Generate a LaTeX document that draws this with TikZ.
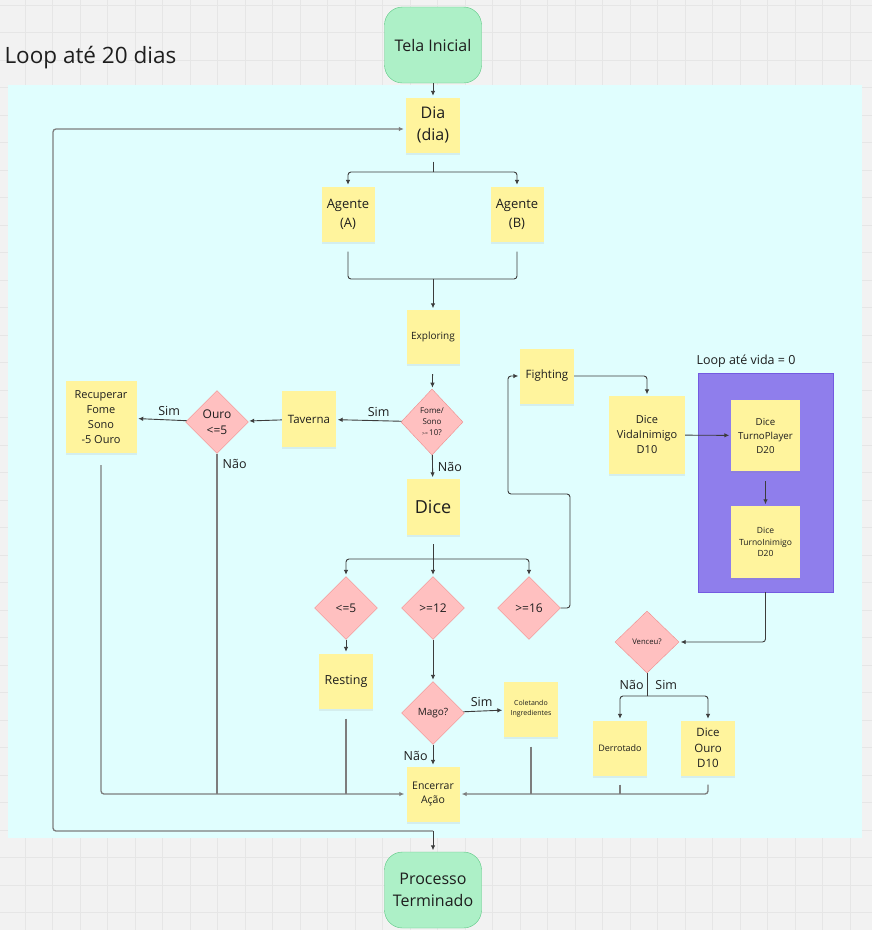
\documentclass[tikz,border=0pt]{standalone}
\usepackage{fontspec}
\setmainfont{Open Sans}
\usetikzlibrary{arrows.meta,shapes.geometric,shadows}

\definecolor{canvasgrey}{RGB}{242,242,242}
\definecolor{gridgrey}{RGB}{230,230,230}
\definecolor{loopcyan}{RGB}{224,254,254}
\definecolor{stickyyellow}{RGB}{255,244,157}
\definecolor{decisionpink}{RGB}{255,192,192}
\definecolor{decisionedge}{RGB}{240,140,140}
\definecolor{termgreen}{RGB}{173,240,199}
\definecolor{termedge}{RGB}{90,200,130}
\definecolor{fightpurple}{RGB}{143,126,236}
\definecolor{fightedge}{RGB}{115,90,225}
\definecolor{wire}{RGB}{60,60,60}
\definecolor{wiregrey}{RGB}{125,125,125}
\definecolor{ink}{RGB}{30,30,30}

\tikzset{
  fs/.style 2 args={font=\fontsize{#1}{#2}\selectfont},
  sticky/.style={fill=stickyyellow, text=ink, align=center, inner sep=1pt,
    minimum width=54pt, minimum height=55pt,
    drop shadow={opacity=0.12, shadow xshift=0pt, shadow yshift=-2pt}},
  decision/.style={diamond, fill=decisionpink, draw=decisionedge, text=ink,
    align=center, inner sep=0pt, minimum width=63pt, minimum height=63pt},
  terminal/.style={fill=termgreen, draw=termedge, text=ink, rounded corners=18pt,
    minimum width=97pt, minimum height=76pt, align=center, fs={16}{22}},
  line/.style={draw=wire, line width=0.9pt, rounded corners=3pt},
  flow/.style={line, ->, shorten >=1.5pt},
  merge/.style={draw=wiregrey, line width=1.3pt, rounded corners=3pt},
  tag/.style={text=ink, fs={12.5}{15}, inner sep=2pt},
}

\begin{document}
\begin{tikzpicture}[x=1pt, y=-1pt, >={Latex[length=5pt,width=4.5pt]}]
  \useasboundingbox (0,0) rectangle (872,930);
  % canvas
  \fill[canvasgrey] (0,0) rectangle (872,930);
  \foreach \gx in {25,52.5,...,872} \draw[gridgrey, line width=0.6pt] (\gx,0) -- (\gx,930);
  \foreach \gy in {5,32.5,...,930} \draw[gridgrey, line width=0.6pt] (0,\gy) -- (872,\gy);
  \fill[loopcyan] (8,85) rectangle (862,838);
  \node[anchor=west, text=ink, fs={22.5}{27}] (looptitle) at (1,58) {Loop até 20 dias};

  % combat loop box
  \node[draw=fightedge, fill=fightpurple, minimum width=135pt, minimum height=219pt] (combat) at (765.5,482.5) {};
  \node[anchor=west, text=ink, fs={12.5}{16}] (combatlabel) at (693,361) {Loop até vida = 0};

  % nodes
  \node[terminal] (tela) at (433,45) {Tela Inicial};
  \node[sticky, fs={16}{22}] (dia) at (433,125) {Dia\\(dia)};
  \node[sticky, fs={13}{19}, minimum width=53pt] (agA) at (348,214) {Agente\\(A)};
  \node[sticky, fs={13}{19}, minimum width=53pt] (agB) at (517,214) {Agente\\(B)};
  \node[sticky, fs={10}{13}, minimum width=53pt, minimum height=54pt] (explore) at (433,337) {Exploring};
  \node[decision, fs={8}{11}, minimum width=62pt, minimum height=66pt] (fome) at (432,422) {Fome/\\Sono\\{\fontsize{5}{6}\selectfont>{}=}\,10?};
  \node[sticky, fs={11.5}{15}, minimum height=56pt] (taverna) at (309,419) {Taverna};
  \node[decision, fs={12}{16}] (ouro) at (217,422) {Ouro\\<=5};
  \node[sticky, fs={11}{15}, minimum width=71pt, minimum height=72pt] (recup) at (101,417) {Recuperar\\Fome\\Sono\\-5 Ouro};
  \node[sticky, fs={18}{22}, minimum width=53pt, minimum height=56pt] (dice) at (433,507) {Dice};
  \node[decision, fs={12}{16}] (le5) at (346,608) {<=5};
  \node[decision, fs={12}{16}] (ge12) at (433,608) {>=12};
  \node[decision, fs={12}{16}] (ge16) at (529,608) {>=16};
  \node[sticky, fs={12.5}{16}] (resting) at (346,681) {Resting};
  \node[decision, fs={10}{13}] (mago) at (433,713) {Mago?};
  \node[sticky, fs={7}{10}] (coleta) at (531,709) {Coletando\\Ingredientes};
  \node[sticky, fs={10.5}{14}, minimum width=53pt] (encerrar) at (433,794) {Encerrar\\Ação};
  \node[sticky, fs={11.5}{15}] (fighting) at (547,376) {Fighting};
  \node[sticky, fs={11}{15}, minimum width=76pt, minimum height=78pt] (vida) at (647,435) {Dice\\VidaInimigo\\D10};
  \node[sticky, fs={9.7}{14}, minimum width=69pt, minimum height=71pt] (turnop) at (765.5,435.5) {Dice\\TurnoPlayer\\D20};
  \node[sticky, fs={8.5}{11.5}, minimum width=69pt, minimum height=72pt] (turnoi) at (765.5,542) {Dice\\TurnoInimigo\\D20};
  \node[decision, fs={7.7}{10}, minimum width=64pt, minimum height=62pt] (venceu) at (647,642) {Venceu?};
  \node[sticky, fs={9}{12}] (derrota) at (620,748) {Derrotado};
  \node[sticky, fs={11.5}{15.5}] (ouroD) at (708,748) {Dice\\Ouro\\D10};
  \node[terminal] (fim) at (433,890) {Processo\\Terminado};

  % junctions
  \coordinate (diasplit) at (433,172);
  \coordinate (agjoin) at (433,279);
  \coordinate (dicesplit) at (433,559);
  \coordinate (venceusplit) at (647,696);
  \coordinate (loopjoin) at (433,831);
  \coordinate (loopcorner) at (53,831);
  \coordinate (fightbendA) at (570,494);
  \coordinate (fightbendB) at (508,494);

  % main flow
  \draw[flow] (tela) -- (dia);
  \draw[line, shorten <=9pt] (dia) -- (diasplit);
  \draw[flow] (diasplit) -| (agA);
  \draw[flow] (diasplit) -| (agB);
  \draw[line, shorten <=10pt] (agA) |- (agjoin);
  \draw[line, shorten <=10pt] (agB) |- (agjoin);
  \draw[flow] (agjoin) -- (explore);
  \draw[flow, shorten <=10pt] (explore) -- (fome);
  \draw[flow] (fome) -- node[tag, above=2pt, pos=0.35] {Sim} (taverna);
  \draw[flow] (fome) -- node[tag, right=3pt] {Não} (dice);
  \draw[flow] (taverna) -- (ouro);
  \draw[flow] (ouro) -- node[tag, above=2pt, pos=0.35] {Sim} (recup);

  % dice branches
  \draw[line, shorten <=9pt] (dice) -- (dicesplit);
  \draw[flow] (dicesplit) -| (le5);
  \draw[flow] (dicesplit) -- (ge12);
  \draw[flow] (dicesplit) -| (ge16);
  \draw[flow] (le5) -- (resting);
  \draw[flow] (ge12) -- (mago);
  \draw[flow] (mago) -- node[tag, above=2pt, pos=0.45] {Sim} (coleta);
  \draw[flow] (mago) -- node[tag, left=3pt] {Não} (encerrar);

  % fighting
  \draw[flow] (ge16.east) -| (fightbendA) -- (fightbendB) |- (fighting.west);
  \draw[flow] (fighting.east) -| (vida);
  \draw[flow] (vida) -- (turnop);
  \draw[flow, shorten <=10pt] (turnop) -- (turnoi);
  \draw[flow] (combat) |- (venceu);
  \draw[line] (venceu) -- node[tag, left=1pt] {Não} node[tag, right=6pt] {Sim} (venceusplit);
  \draw[flow] (venceusplit) -| (derrota);
  \draw[flow] (venceusplit) -| (ouroD);

  % merge into Encerrar
  \draw[merge, ->, shorten <=12pt, shorten >=2pt] (recup) |- (encerrar);
  \draw[merge] (ouro) -- node[tag, right=3pt, pos=0.03] {Não} (ouro |- encerrar);
  \draw[merge, shorten <=10pt] (resting) -- (resting |- encerrar);
  \draw[merge, ->, shorten <=9pt, shorten >=2pt] (ouroD) |- (encerrar);
  \draw[merge, shorten <=10pt] (coleta) -- (coleta |- encerrar);
  \draw[merge, shorten <=9pt] (derrota) -- (derrota |- encerrar);

  % day loop
  \draw[merge, ->, shorten >=2pt] (loopjoin) -- (loopcorner) |- ([yshift=-4pt]dia.west);
  \draw[flow] (loopjoin) -- (fim);
\end{tikzpicture}
\end{document}
